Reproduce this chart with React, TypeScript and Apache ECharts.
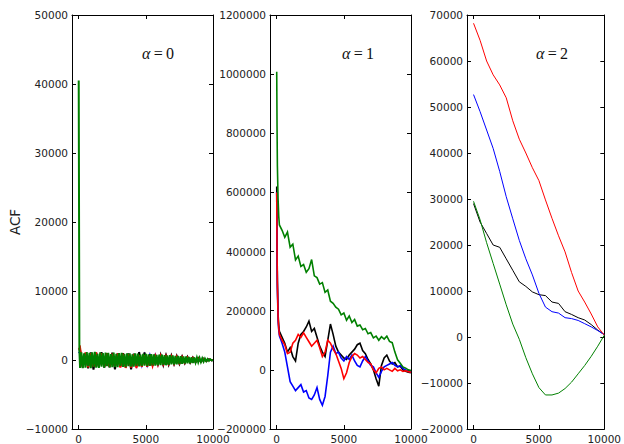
import React, { useEffect, useRef } from "react";
import * as echarts from "echarts";

// ---------- data ----------
const xTickValues = [0, 5000, 10000];
const panelTitles = ["0", "1", "2"];

// Panel 1 (alpha = 0)
const lagsP1 = [0, 50, 100, 200, 300, 400, 500, 600, 700, 800, 900, 1000, 1100, 1200, 1300, 1400, 1500, 1600, 1700, 1800, 1900, 2000, 2100, 2200, 2300, 2400, 2500, 2600, 2700, 2800, 2900, 3000, 3100, 3200, 3300, 3400, 3500, 3600, 3700, 3800, 3900, 4000, 4100, 4200, 4300, 4400, 4500, 4600, 4700, 4800, 4900, 5000, 5100, 5200, 5300, 5400, 5500, 5600, 5700, 5800, 5900, 6000, 6100, 6200, 6300, 6400, 6500, 6600, 6700, 6800, 6900, 7000, 7100, 7200, 7300, 7400, 7500, 7600, 7700, 7800, 7900, 8000, 8100, 8200, 8300, 8400, 8500, 8600, 8700, 8800, 8900, 9000, 9100, 9200, 9300, 9400, 9500, 9600, 9700, 9800, 9900, 10000];
const greenP1 = [40500, 1300,
  -1150, 1100, -1200, 950, -1100, 1150, -900, 1050, -1200, 1100,
  -1000, 1180, -1100, 900, -1150, 1120, -950, 1000, -1100, 1080,
  -900, 1050, -1080, 850, -1050, 1060, -1000, 900, -1050, 1000,
  -850, 1020, -1000, 880, -1020, 980, -900, 950, -980, 800,
  -960, 950, -850, 920, -940, 780, -900, 900, -800, 880,
  -870, 820, -860, 840, -780, 820, -800, 760, -780, 780,
  -740, 780, -700, 720, -760, 680, -700, 700, -640, 660,
  -660, 600, -620, 580, -600, 540, -560, 520, -500, 520,
  -480, 440, -460, 400, -420, 380, -360, 340, -320, 300,
  -280, 250, -240, 200, -180, 150, -120, 90, -50, 0];

const lagsP1b = [0, 100, 300, 500, 700, 900, 1100, 1300, 1500, 1700, 1900, 2100, 2300, 2500, 2700, 2900, 3100, 3300, 3500, 3700, 3900, 4100, 4300, 4500, 4700, 4900, 5100, 5300, 5500, 5700, 5900, 6100, 6300, 6500, 6700, 6900, 7100, 7300, 7500, 7700, 7900, 8100, 8300, 8500, 8700, 8900, 9100, 9300, 9500, 9700, 9900, 10000];
const blackP1 = [1400, 1450, -1100, 1000, -1200, 1100, -1400, 1050, -1000, 1150, -1100, 1000, -1050, 1050, -1350, 950, -1000, 1000, -1050, 950, -1350, 900, -950, 1150, -900, 1100, -950, 800, -850, 780, -760, 720, -720, 660, -660, 620, -600, 560, -540, 500, -470, 430, -400, 360, -320, 280, -240, 190, -140, 90, -40, 0];
const redP1 = [1500, 1800, -1000, 1100, -1050, 1000, -1000, 1100, -950, 1000, -1000, 950, -1000, 900, -950, 950, -1100, 900, -1150, 850, -1100, 850, -1150, 700, -1000, 700, -950, 650, -850, 600, -700, 600, -600, 560, -560, 520, -520, 480, -450, 430, -400, 360, -330, 300, -260, 230, -190, 150, -110, 70, -30, 0];
const blueP1 = [1200, 1000, -900, 950, -900, 900, -950, 900, -900, 850, -900, 850, -850, 800, -850, 800, -800, 800, -800, 750, -780, 750, -750, 700, -720, 700, -700, 650, -650, 620, -600, 580, -560, 540, -520, 480, -460, 440, -420, 380, -360, 320, -300, 260, -240, 200, -170, 140, -100, 60, -30, 0];

// Panel 2 (alpha = 1)
const lagsP2 = [0, 25, 50, 100, 150, 200, 400, 600, 800, 1000, 1200, 1400, 1600, 1800, 2000, 2200, 2400, 2600, 2800, 3000, 3200, 3400, 3600, 3800, 4000, 4200, 4400, 4600, 4800, 5000, 5200, 5400, 5600, 5800, 6000, 6200, 6400, 6600, 6800, 7000, 7200, 7400, 7600, 7800, 8000, 8200, 8400, 8600, 8800, 9000, 9200, 9400, 9600, 9800, 10000];
const greenP2 = [1008000, 820000, 690000, 580000, 520000,
  490000, 472000, 448000, 466000, 415000, 425000, 372000, 385000, 350000, 356000,
  330000, 342000, 373000, 318000, 312000, 290000, 295000, 262000, 270000, 232000,
  225000, 212000, 205000, 186000, 192000, 168000, 182000, 160000, 170000, 148000,
  152000, 136000, 140000, 122000, 126000, 108000, 114000, 100000, 112000, 104000,
  114000, 96000, 92000, 60000, 34000, 22000, 10000, 6000, 0, -2000];
const blackP2 = [620000, 420000, 300000, 190000, 150000,
  130000, 110000, 90000, 60000, 75000, 45000, 30000, 90000, 120000, 130000,
  145000, 165000, 130000, 140000, 110000, 80000, 60000, 45000, 100000, 155000,
  120000, 80000, 60000, 50000, 40000, 35000, 50000, 60000, 70000, 85000,
  90000, 65000, 55000, 35000, 20000, 0, -30000, -55000, 15000, 40000,
  50000, 30000, 20000, 25000, 10000, 12000, 0, -5000, -8000, -10000];
const redP2 = [600000, 400000, 290000, 180000, 140000,
  120000, 100000, 85000, 55000, 60000, 90000, 100000, 120000, 110000, 125000,
  110000, 95000, 80000, 90000, 100000, 75000, 45000, 60000, 100000, 90000,
  70000, 55000, 30000, 5000, -30000, -10000, 25000, 45000, 55000, 50000,
  40000, 45000, 35000, 25000, 20000, 0, -10000, 5000, 10000, 0,
  5000, 0, -5000, 5000, -3000, 0, -5000, -3000, -6000, -8000];
const blueP2 = [600000, 400000, 280000, 170000, 135000,
  115000, 90000, 60000, 10000, -40000, -55000, -70000, -60000, -50000, -75000,
  -70000, -95000, -100000, -85000, -60000, -100000, -120000, -90000, -20000, 60000,
  80000, 55000, 60000, 40000, 30000, 45000, 35000, 50000, 30000, 15000,
  10000, 30000, 45000, 30000, 15000, 10000, -10000, -25000, -5000, 10000,
  15000, 20000, 25000, 15000, 10000, 15000, 5000, 0, -5000, -8000];

// Panel 3 (alpha = 2)
const lagsP3 = [0, 500, 1000, 1500, 2000, 2500, 3000, 3500, 4000, 4500, 5000, 5500, 6000, 6500, 7000, 7500, 8000, 8500, 9000, 9500, 10000];
const redP3 = [68200, 64500, 60000, 57000, 54800, 52000, 47000, 43000, 40000, 36800, 34000, 29800, 25800, 22000, 18500, 14000, 10000, 7600, 5000, 2200, 400];
const blueP3 = [52700, 49000, 45000, 41000, 36000, 30500, 25700, 21000, 17000, 13500, 9500, 6500, 5500, 5200, 4200, 4000, 3600, 2900, 2200, 1400, 500];
const greenP3 = [29500, 25500, 20500, 16000, 11500, 7000, 2800, -500, -4500, -8000, -11000, -12600, -12600, -12200, -11200, -9800, -8000, -6200, -4200, -2000, 400];
const blackP3 = [29000, 25000, 22500, 20000, 19500, 17000, 14500, 12000, 11000, 9800, 9200, 9000, 7600, 7300, 5500, 4900, 4200, 3700, 2700, 1500, 500];

// y-axis ranges per panel: [min, max, interval]
const yRanges = [
  [-10000, 50000, 10000],
  [-200000, 1200000, 200000],
  [-20000, 70000, 10000],
];

const COLORS = { black: "#000000", blue: "#0000ff", red: "#ff0000", green: "#008000" };

const zip = (xs: number[], ys: number[]) => xs.map((x, i) => [x, ys[i]]);
const fmt = (v: number) => (v < 0 ? "\u2212" + Math.abs(v) : String(v));

export default function App() {
  const ref = useRef<HTMLDivElement>(null);
  useEffect(() => {
    if (!ref.current) return;
    const chart = echarts.init(ref.current, null, { renderer: "svg" });
    const lefts = [72, 270, 467];
    const grids = lefts.map((l) => ({ left: l, top: 15, width: 141, height: 415 }));
    const labelStyle = { fontFamily: "DejaVu Sans", fontSize: 10.5, color: "#222" };
    const xAxes: any[] = [];
    const yAxes: any[] = [];
    lefts.forEach((_, g) => {
      ["bottom", "top"].forEach((pos) => {
        xAxes.push({
          type: "value", gridIndex: g, position: pos, min: -500, max: 10000,
          splitLine: { show: false },
          axisLine: { show: true, onZero: false, lineStyle: { color: "#000", width: 1 } },
          axisTick: { show: true, inside: true, length: 4, customValues: xTickValues, lineStyle: { color: "#000" } },
          axisLabel: { show: pos === "bottom", customValues: xTickValues, margin: 4, formatter: fmt, ...labelStyle },
        });
      });
      const [mn, mx, iv] = yRanges[g];
      ["left", "right"].forEach((pos) => {
        yAxes.push({
          type: "value", gridIndex: g, position: pos, min: mn, max: mx, interval: iv,
          splitLine: { show: false },
          axisLine: { show: true, onZero: false, lineStyle: { color: "#000", width: 1 } },
          axisTick: { show: true, inside: true, length: 4, lineStyle: { color: "#000" } },
          axisLabel: { show: pos === "left", margin: 4, formatter: fmt, ...labelStyle },
        });
      });
    });
    const widths = [2, 1.6, 1];
    const mk = (g: number, xs: number[], ys: number[], color: string) => ({
      type: "line", xAxisIndex: g * 2, yAxisIndex: g * 2, data: zip(xs, ys),
      showSymbol: false, symbol: "none", clip: true,
      lineStyle: { color, width: widths[g], join: "miter" }, itemStyle: { color },
    });
    const series = [
      mk(0, lagsP1b, blueP1, COLORS.blue),
      mk(0, lagsP1b, blackP1, COLORS.black),
      mk(0, lagsP1b, redP1, COLORS.red),
      mk(0, lagsP1, greenP1, COLORS.green),
      mk(1, lagsP2, blackP2, COLORS.black),
      mk(1, lagsP2, blueP2, COLORS.blue),
      mk(1, lagsP2, redP2, COLORS.red),
      mk(1, lagsP2, greenP2, COLORS.green),
      mk(2, lagsP3, blackP3, COLORS.black),
      mk(2, lagsP3, blueP3, COLORS.blue),
      mk(2, lagsP3, redP3, COLORS.red),
      mk(2, lagsP3, greenP3, COLORS.green),
    ];
    const titleX = [158, 358, 552];
    const graphic: any[] = titleX.map((x, i) => ({
      type: "text", x, y: 53,
      style: {
        text: "{a|\u03b1}{b|\u2009=\u2009" + panelTitles[i] + "}",
        align: "center", verticalAlign: "middle",
        rich: {
          a: { fontFamily: "Liberation Serif", fontStyle: "italic", fontSize: 16, fill: "#111" },
          b: { fontFamily: "Liberation Serif", fontSize: 16, fill: "#111" },
        },
      },
    }));
    graphic.push({
      type: "text", x: 15, y: 222, rotation: Math.PI / 2,
      style: { text: "ACF", font: '13.5px "DejaVu Sans"', fill: "#222", align: "center", verticalAlign: "middle" },
    });
    chart.setOption({ animation: false, grid: grids, xAxis: xAxes, yAxis: yAxes, series, graphic });
    return () => chart.dispose();
  }, []);
  return (
    <div ref={ref} style={{ position: "fixed", left: 0, top: 0, width: 624, height: 444, background: "#fff" }} />
  );
}
